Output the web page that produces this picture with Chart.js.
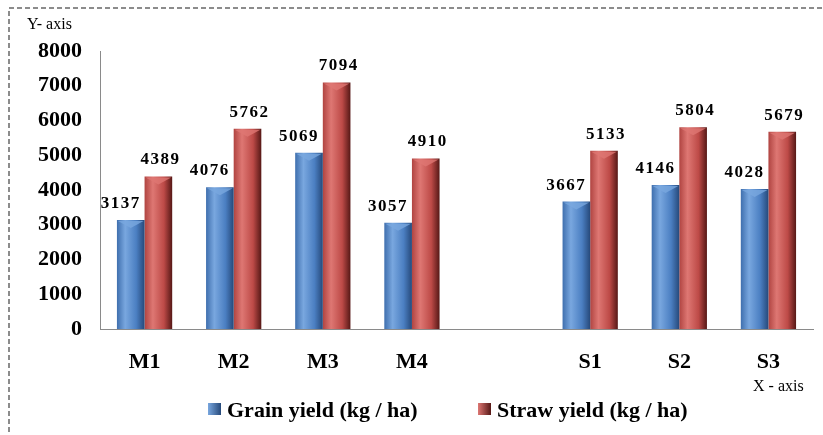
<!DOCTYPE html>
<html>
<head>
<meta charset="utf-8">
<script src="https://cdn.jsdelivr.net/npm/chart.js@4"></script>
<style>
  html, body { margin: 0; padding: 0; background: #fff; }
  #wrap { position: relative; width: 823px; height: 435px; }
</style>
</head>
<body>
<div id="wrap"><canvas id="myChart" width="823" height="435"></canvas></div>
<script>
// donnees
const categories = ['M1', 'M2', 'M3', 'M4', '', 'S1', 'S2', 'S3'];
const grainYield = [3137, 4076, 5069, 3057, null, 3667, 4146, 4028];
const strawYield = [4389, 5762, 7094, 4910, null, 5133, 5804, 5679];
const seriesNames = ['Grain yield (kg / ha)', 'Straw yield (kg / ha)'];
const yMin = 0, yMax = 8000, yStep = 1000;

const CAT_PCT = 0.62;
const SERIF = '"Liberation Serif", "Times New Roman", serif';

const blueStops = ['#3f6fae', '#79a7df', '#4b7fc2', '#26497a'];
const redStops = ['#b04441', '#de7773', '#bd4a47', '#561816'];

// degrade horizontal pour faire un effet cylindre
function cylinder(ctx, dsIndex, stops) {
    const chart = ctx.chart;
    const xs = chart.scales.x;
    if (!xs || !chart.chartArea) return stops[2];
    const barW = xs.width / categories.length * CAT_PCT / 2;
    const c = xs.getPixelForValue(ctx.dataIndex);
    const left = c - barW + dsIndex * barW;
    const g = chart.ctx.createLinearGradient(left, 0, left + barW, 0);
    g.addColorStop(0, stops[0]);
    g.addColorStop(0.3, stops[1]);
    g.addColorStop(0.7, stops[2]);
    g.addColorStop(1, stops[3]);
    return g;
}

// cadre pointille, titres d'axes, etiquettes et legende
const decoPlugin = {
    id: 'deco',
    beforeDraw(chart) {
        const c = chart.ctx;
        c.save();
        c.strokeStyle = '#8c8c8c';
        c.lineWidth = 2;
        c.setLineDash([5, 3]);
        c.beginPath();
        c.moveTo(9, 440);
        c.lineTo(9, 8);
        c.lineTo(830, 8);
        c.stroke();
        c.restore();
    },
    afterDatasetsDraw(chart) {
        const c = chart.ctx;
        c.save();
        chart.data.datasets.forEach((ds, di) => {
            const meta = chart.getDatasetMeta(di);
            meta.data.forEach((bar, i) => {
                if (ds.data[i] == null) return;
                const w = bar.width;
                // petit chapeau clair en haut de la barre
                const stops = di === 0 ? blueStops : redStops;
                c.fillStyle = stops[1];
                c.globalAlpha = 0.8;
                c.beginPath();
                c.moveTo(bar.x - w / 2 + 1, bar.y + 1);
                c.lineTo(bar.x + w / 2 - 1, bar.y + 1);
                c.lineTo(bar.x, bar.y + 8);
                c.closePath();
                c.fill();
                c.globalAlpha = 1;
                // valeur au dessus
                c.fillStyle = '#000';
                c.font = 'bold 17px ' + SERIF;
                c.letterSpacing = '1.5px';
                c.textAlign = 'center';
                c.textBaseline = 'alphabetic';
                const dx = di === 0 ? -10 : 2;
                c.fillText(String(ds.data[i]), bar.x + dx, bar.y - 12);
            });
        });
        c.letterSpacing = '0px';
        c.textAlign = 'left';
        c.font = '16px ' + SERIF;
        c.fillText('Y- axis', 27, 29);
        c.fillText('X - axis', 753, 391);

        // legende
        const items = [
            { x: 208, stops: blueStops, text: seriesNames[0] },
            { x: 478, stops: redStops, text: seriesNames[1] }
        ];
        items.forEach(it => {
            const g = c.createLinearGradient(it.x, 0, it.x + 13, 0);
            g.addColorStop(0, it.stops[1]);
            g.addColorStop(1, it.stops[3]);
            c.fillStyle = g;
            c.fillRect(it.x, 403, 13, 12);
            c.fillStyle = '#000';
            c.font = 'bold 22px ' + SERIF;
            c.fillText(it.text, it.x + 19, 417);
        });
        c.restore();
    }
};

const ctx = document.getElementById('myChart').getContext('2d');
const myChart = new Chart(ctx, {
    type: 'bar',
    data: {
        labels: categories,
        datasets: [{
            label: seriesNames[0],
            data: grainYield,
            backgroundColor: c => cylinder(c, 0, blueStops),
            borderWidth: 0,
            categoryPercentage: CAT_PCT,
            barPercentage: 1
        }, {
            label: seriesNames[1],
            data: strawYield,
            backgroundColor: c => cylinder(c, 1, redStops),
            borderWidth: 0,
            categoryPercentage: CAT_PCT,
            barPercentage: 1
        }]
    },
    options: {
        responsive: false,
        animation: false,
        layout: { padding: { left: 0, right: 10, top: 51, bottom: 56 } },
        plugins: {
            legend: { display: false },
            tooltip: { enabled: false }
        },
        scales: {
            x: {
                grid: { display: false, drawTicks: false },
                border: { display: true, color: '#8a8a8a', width: 1 },
                ticks: {
                    color: '#000',
                    padding: 20,
                    maxRotation: 0,
                    font: { family: SERIF, size: 22, weight: 'bold' }
                },
                afterFit: s => { s.height = 50; }
            },
            y: {
                min: yMin,
                max: yMax,
                grid: { display: false, drawTicks: false },
                border: { display: true, color: '#8a8a8a', width: 1 },
                ticks: {
                    stepSize: yStep,
                    color: '#000',
                    padding: 18,
                    font: { family: SERIF, size: 22, weight: 'bold' },
                    callback: v => String(v)
                },
                afterFit: s => { s.width = 100; }
            }
        }
    },
    plugins: [decoPlugin]
});
</script>
</body>
</html>
